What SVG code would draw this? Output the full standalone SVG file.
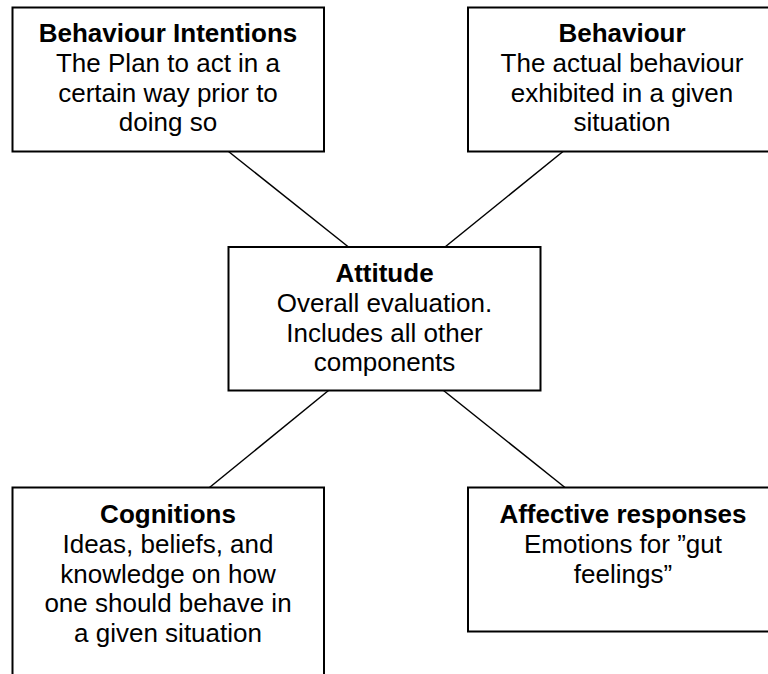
<svg xmlns="http://www.w3.org/2000/svg" width="768" height="674" viewBox="0 0 768 674">
  <style>
    .box { fill: #ffffff; stroke: #000000; stroke-width: 2; }
    .link { stroke: #000000; stroke-width: 1.5; fill: none; }
    text { font-family: "Liberation Sans", Arial, sans-serif; font-size: 26px; fill: #000000; text-anchor: middle; }
    .title { font-weight: bold; }
  </style>
  <rect width="768" height="674" fill="#ffffff"/>

  <!-- connectors between the attitude and its components -->
  <g id="connectors">
    <line class="link" x1="228.5" y1="151.5" x2="348.5" y2="247"/>
    <line class="link" x1="563" y1="151.5" x2="445" y2="247"/>
    <line class="link" x1="328.5" y1="390.5" x2="209.5" y2="487.5"/>
    <line class="link" x1="443.5" y1="390.5" x2="565" y2="487.5"/>
  </g>

  <g id="behaviour-intentions">
    <rect class="box" x="12.5" y="7.5" width="311.5" height="144"/>
    <text x="168" y="42" class="title">Behaviour Intentions</text>
    <text x="168" y="72">The Plan to act in a</text>
    <text x="168" y="101.5">certain way prior to</text>
    <text x="168" y="131">doing so</text>
  </g>

  <g id="behaviour">
    <rect class="box" x="468" y="7.5" width="311.5" height="144"/>
    <text x="622" y="42" class="title">Behaviour</text>
    <text x="622" y="72">The actual behaviour</text>
    <text x="622" y="101.5">exhibited in a given</text>
    <text x="622" y="131">situation</text>
  </g>

  <g id="attitude">
    <rect class="box" x="228.5" y="247" width="312" height="143.5"/>
    <text x="384.5" y="282" class="title">Attitude</text>
    <text x="384.5" y="312">Overall evaluation.</text>
    <text x="384.5" y="341.5">Includes all other</text>
    <text x="384.5" y="371">components</text>
  </g>

  <g id="cognitions">
    <rect class="box" x="12.5" y="487.5" width="311.5" height="200"/>
    <text x="168" y="523" class="title">Cognitions</text>
    <text x="168" y="553">Ideas, beliefs, and</text>
    <text x="168" y="582.5">knowledge on how</text>
    <text x="168" y="612">one should behave in</text>
    <text x="168" y="642">a given situation</text>
  </g>

  <g id="affective-responses">
    <rect class="box" x="468" y="487.5" width="311.5" height="144"/>
    <text x="623" y="523" class="title">Affective responses</text>
    <text x="623" y="553">Emotions for ”gut</text>
    <text x="623" y="582.5">feelings”</text>
  </g>
</svg>
